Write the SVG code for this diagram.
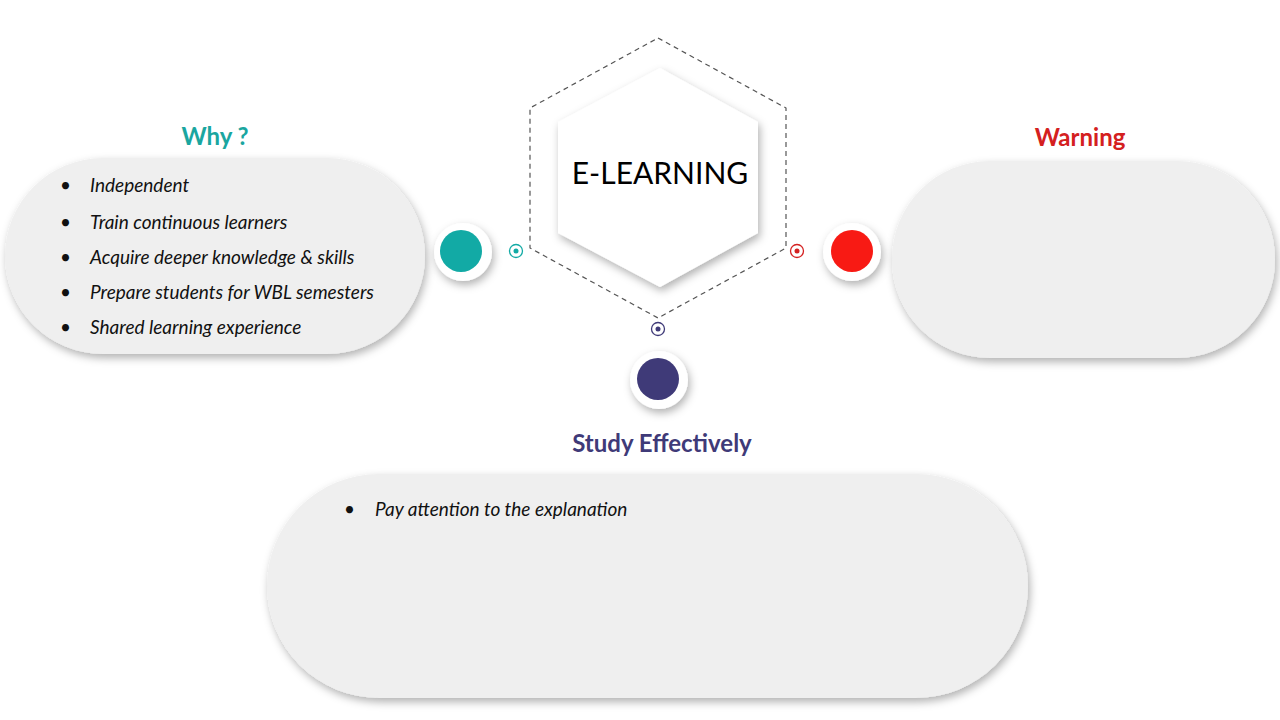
<svg xmlns="http://www.w3.org/2000/svg" width="1280" height="720" viewBox="0 0 1280 720">
<defs>
<filter id="sh" x="-20%" y="-20%" width="140%" height="150%"><feDropShadow dx="2" dy="4" stdDeviation="4" flood-color="#000" flood-opacity="0.3"/></filter>
<style>
.pill{fill:#efefef;filter:url(#sh)}
.b{font-family:Lato,"Liberation Sans",sans-serif;font-style:italic;font-size:19px;fill:#111}
.h{font-family:Lato,"Liberation Sans",sans-serif;font-weight:bold;font-size:24px}
</style>
</defs>
<rect width="1280" height="720" fill="#fff"/>
<g id="connectors">
<polygon points="658,38 786,108 786,248 658,318 530,248 530,108" fill="none" stroke="#555" stroke-width="1.2" stroke-dasharray="5,4"/>
</g>
<g id="hexagon">
<polygon points="660,68 758,122 758,233 660,287 558,233 558,122" fill="#fff" filter="url(#sh)"/>
<text x="660" y="184" text-anchor="middle" font-family="Lato,'Liberation Sans',sans-serif" font-size="30" fill="#000">E-LEARNING</text>
</g>
<g id="why">
<rect x="5" y="158" width="420" height="196" rx="98" class="pill"/>
<text x="215" y="145" text-anchor="middle" class="h" fill="#1aa6a0">Why ?</text>
<g class="b">
<text x="60" y="192">•</text><text x="90" y="192">Independent</text>
<text x="60" y="229">•</text><text x="90" y="229">Train continuous learners</text>
<text x="60" y="264">•</text><text x="90" y="264">Acquire deeper knowledge &amp; skills</text>
<text x="60" y="299">•</text><text x="90" y="299">Prepare students for WBL semesters</text>
<text x="60" y="334">•</text><text x="90" y="334">Shared learning experience</text>
</g>
</g>
<g id="warning">
<rect x="892" y="161" width="383" height="197" rx="98" class="pill"/>
<text x="1080" y="146" text-anchor="middle" class="h" fill="#d42020">Warning</text>
</g>
<g id="study">
<rect x="267" y="474" width="761" height="224" rx="112" class="pill"/>
<text x="662" y="452" text-anchor="middle" class="h" fill="#3f3a78">Study Effectively</text>
<text x="344" y="516" class="b">•</text><text x="375" y="516" class="b">Pay attention to the explanation</text>
</g>
<g id="dot-teal">
<circle cx="463" cy="252" r="29" fill="#fff" filter="url(#sh)"/>
<circle cx="461" cy="251" r="21" fill="#12aaa5"/>
<circle cx="516" cy="251" r="6.5" fill="none" stroke="#12aaa5" stroke-width="1.3"/><circle cx="516" cy="251" r="2.5" fill="#12aaa5"/>
</g>
<g id="dot-red">
<circle cx="852" cy="252" r="29" fill="#fff" filter="url(#sh)"/>
<circle cx="852" cy="251" r="21" fill="#f81a14"/>
<circle cx="797" cy="251" r="6.5" fill="none" stroke="#d42020" stroke-width="1.3"/><circle cx="797" cy="251" r="2.5" fill="#d42020"/>
</g>
<g id="dot-purple">
<circle cx="659" cy="380" r="29" fill="#fff" filter="url(#sh)"/>
<circle cx="658" cy="379" r="21" fill="#3f3a78"/>
<circle cx="658" cy="329" r="6.5" fill="none" stroke="#3f3a78" stroke-width="1.3"/><circle cx="658" cy="329" r="2.5" fill="#3f3a78"/>
</g>
</svg>
